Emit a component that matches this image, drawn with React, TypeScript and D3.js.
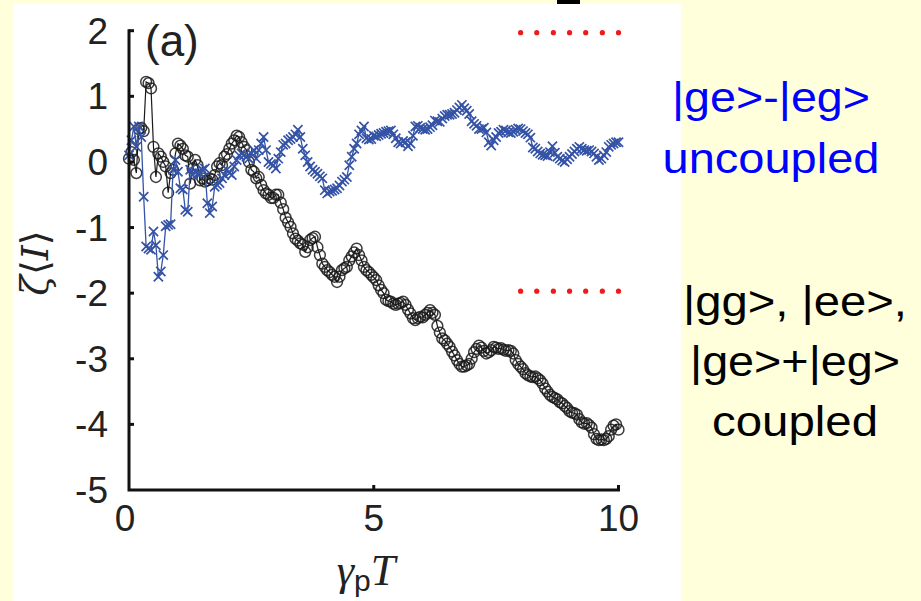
import React from "react";
import * as d3 from "d3";

// Sampling step of both trajectories (in units of γ_p T)
const timeStep = 0.05;

// Black trajectory (circles): coupled subspace
const coupledSeries = [
  0.05, 0.15, 0.03, -0.17, 0.5, 0.52, 0.47, 1.22, 1.2, 1.12,
  0.23, -0.23, 0.13, 0.08, 0.0, -0.07, -0.47, -0.17, -0.12, 0.13,
  0.28, 0.25, 0.2, 0.1, 0.08, -0.33, -0.1, 0.03, -0.05, -0.28,
  -0.25, -0.3, -0.28, -0.25, -0.27, -0.2, -0.07, -0.02, -0.05, 0.08,
  0.12, 0.2, 0.28, 0.33, 0.4, 0.38, 0.3, 0.23, 0.18, 0.0,
  -0.12, -0.15, -0.25, -0.23, -0.35, -0.43, -0.48, -0.5, -0.55, -0.55,
  -0.5, -0.5, -0.62, -0.72, -0.85, -0.92, -0.99, -1.09, -1.17, -1.2,
  -1.24, -1.26, -1.37, -1.3, -1.19, -1.16, -1.14, -1.3, -1.42, -1.55,
  -1.6, -1.65, -1.68, -1.72, -1.75, -1.83, -1.75, -1.65, -1.62, -1.6,
  -1.5, -1.44, -1.38, -1.32, -1.42, -1.5, -1.6, -1.65, -1.68, -1.72,
  -1.76, -1.8, -1.88, -1.95, -2.0, -2.1, -2.12, -2.13, -2.16, -2.18,
  -2.16, -2.15, -2.13, -2.18, -2.25, -2.31, -2.38, -2.41, -2.38, -2.36,
  -2.37, -2.33, -2.3, -2.26, -2.3, -2.33, -2.5, -2.6, -2.69, -2.72,
  -2.77, -2.82, -2.89, -2.95, -3.02, -3.08, -3.12, -3.12, -3.1, -3.08,
  -3.0, -2.9, -2.85, -2.8, -2.83, -2.88, -2.92, -2.9, -2.87, -2.82,
  -2.83, -2.85, -2.84, -2.86, -2.88, -2.87, -2.88, -2.92, -3.02, -3.08,
  -3.12, -3.16, -3.22, -3.25, -3.27, -3.28, -3.27, -3.3, -3.33, -3.38,
  -3.45, -3.5, -3.55, -3.58, -3.6, -3.62, -3.66, -3.68, -3.72, -3.75,
  -3.8, -3.82, -3.83, -3.85, -3.92, -3.97, -3.99, -3.98, -4.01, -4.05,
  -4.15, -4.22, -4.24, -4.23, -4.24, -4.22, -4.18, -4.08, -4.02, -4.0,
  -4.08,
];

// Blue trajectory (crosses): uncoupled state
const uncoupledSeries = [
  0.1, 0.33, 0.54, 0.23, 0.54, 0.38, -0.53, -1.29, -1.32, -1.34,
  -1.06, -1.27, -1.75, -1.67, -1.42, -0.98, -0.96, -0.95, -0.12, 0.03,
  -0.15, -0.4, -0.42, -0.73, -0.76, -0.12, -0.2, -0.15, -0.18, -0.17,
  -0.12, -0.1, -0.63, -0.78, -0.68, -0.38, -0.35, -0.32, -0.25, -0.2,
  -0.12, -0.17, -0.2, -0.07, 0.03, 0.1, 0.13, 0.1, 0.08, 0.05,
  0.13, 0.18, 0.05, 0.18, 0.28, 0.38, 0.18, 0.0, -0.03, -0.05,
  -0.1, 0.05, 0.15, 0.26, 0.28, 0.33, 0.35, 0.38, 0.42, 0.49,
  0.38, 0.2, 0.1, 0.0, -0.07, -0.12, -0.15, -0.18, -0.22, -0.25,
  -0.43, -0.48, -0.45, -0.44, -0.42, -0.4, -0.36, -0.3, -0.27, -0.23,
  -0.05, 0.08, 0.2, 0.28, 0.42, 0.48, 0.54, 0.36, 0.34, 0.35,
  0.4, 0.39, 0.41, 0.43, 0.44, 0.46, 0.47, 0.48, 0.42, 0.36,
  0.3, 0.28, 0.32, 0.3, 0.24, 0.28, 0.4, 0.54, 0.55, 0.52,
  0.5, 0.49, 0.5, 0.53, 0.56, 0.63, 0.62, 0.61, 0.66, 0.7,
  0.72, 0.72, 0.73, 0.75, 0.79, 0.83, 0.87, 0.82, 0.78, 0.73,
  0.62, 0.58, 0.55, 0.5, 0.5, 0.52, 0.45, 0.3, 0.25, 0.33,
  0.38, 0.44, 0.46, 0.49, 0.48, 0.45, 0.44, 0.46, 0.49, 0.51,
  0.5, 0.47, 0.44, 0.42, 0.37, 0.22, 0.2, 0.16, 0.13, 0.11,
  0.1, 0.09, 0.15, 0.24, 0.14, 0.08, 0.05, 0.02, 0.0, 0.04,
  0.08, 0.12, 0.16, 0.2, 0.23, 0.2, 0.18, 0.17, 0.18, 0.16,
  0.13, 0.08, 0.03, 0.05, 0.1, 0.15, 0.23, 0.26, 0.28, 0.3,
  0.3,
];

// Red dotted reference marks
const markerLevels = [1.97, -1.97];
const markerTimes = [8, 8.33, 8.67, 9, 9.33, 9.67, 10];

const yTicks = [2, 1, 0, -1, -2, -3, -4, -5];
const yTickLabels = ["2", "1", "0", "-1", "-2", "-3", "-4", "-5"];
const xTicks = [0, 5, 10];
const xTickLabels = ["0", "5", "10"];

const uncoupledLines = ["|ge>-|eg>", "uncoupled"];
const coupledLines = ["|gg>, |ee>,", "|ge>+|eg>", "coupled"];

const W = 921;
const H = 601;
const BLUE = "#3553a6";
const INK = "#1a1a1a";

export default function App() {
  const x = d3.scaleLinear().domain([0, 10]).range([129, 618.5]);
  const y = d3.scaleLinear().domain([-5, 2]).range([490, 30.7]);

  const toPts = (arr: number[]) => arr.map((v, i) => [i * timeStep, v] as [number, number]);
  const coupled = toPts(coupledSeries);
  const uncoupled = toPts(uncoupledSeries);

  const line = d3
    .line<[number, number]>()
    .x((d) => x(d[0]))
    .y((d) => y(d[1]));

  const tickFont = "'Liberation Sans', Arial, sans-serif";
  const s = 4.6; // half-size of the cross marker

  return (
    <div style={{ position: "fixed", left: 0, top: 0, width: W, height: H }}>
      <svg width={W} height={H} style={{ display: "block" }}>
        <rect x={0} y={0} width={W} height={H} fill="#ffffdc" />
        <rect x={13} y={4} width={668} height={H - 4} fill="#ffffff" />
        <rect x={557} y={0} width={23} height={4} fill="#000" />

        {/* trajectories */}
        <path d={line(coupled) ?? ""} fill="none" stroke={INK} strokeWidth={1.2} />
        {coupled.map((d, i) => (
          <circle
            key={`c${i}`}
            cx={x(d[0])}
            cy={y(d[1])}
            r={5.4}
            fill="none"
            stroke={INK}
            strokeOpacity={0.85}
            strokeWidth={1.5}
          />
        ))}
        <path d={line(uncoupled) ?? ""} fill="none" stroke={BLUE} strokeWidth={1.3} />
        {uncoupled.map((d, i) => {
          const cx = x(d[0]);
          const cy = y(d[1]);
          return (
            <path
              key={`u${i}`}
              d={`M${cx - s},${cy - s}L${cx + s},${cy + s}M${cx - s},${cy + s}L${cx + s},${cy - s}`}
              stroke={BLUE}
              strokeWidth={1.7}
              fill="none"
            />
          );
        })}

        {/* reference dots */}
        {markerLevels.map((lv) =>
          markerTimes.map((t) => (
            <circle key={`m${lv}-${t}`} cx={x(t)} cy={y(lv)} r={2.6} fill="#f01a1a" />
          ))
        )}

        {/* axes */}
        <path
          d={`M${x(0)},${y(2)}V${y(-5)}H${x(10)}`}
          fill="none"
          stroke="#111"
          strokeWidth={3}
          strokeLinecap="square"
        />
        {yTicks.slice(0, -1).map((t) => (
          <line key={`yt${t}`} x1={x(0)} x2={x(0) + 5} y1={y(t)} y2={y(t)} stroke="#111" strokeWidth={3} />
        ))}
        {xTicks.slice(1).map((t) => (
          <line key={`xt${t}`} x1={x(t)} x2={x(t)} y1={y(-5)} y2={y(-5) - 5} stroke="#111" strokeWidth={3} />
        ))}
        {yTicks.map((t, i) => (
          <text
            key={`yl${t}`}
            x={108}
            y={y(t) + 13}
            textAnchor="end"
            fontFamily={tickFont}
            fontSize={37}
            fill="#222"
          >
            {yTickLabels[i]}
          </text>
        ))}
        {xTicks.map((t, i) => (
          <text
            key={`xl${t}`}
            x={x(t) - (t === 0 ? 4 : 0)}
            y={531}
            textAnchor="middle"
            fontFamily={tickFont}
            fontSize={37}
            fill="#222"
          >
            {xTickLabels[i]}
          </text>
        ))}

        <text x={145} y={56} fontFamily={tickFont} fontSize={44} fill="#222">
          (a)
        </text>

        {/* axis titles */}
        <text x={366} y={585} textAnchor="middle" fill="#222">
          <tspan fontFamily="'Liberation Serif', serif" fontStyle="italic" fontSize={44}>
            γ
          </tspan>
          <tspan fontFamily={tickFont} fontSize={30} dy={6}>
            p
          </tspan>
          <tspan fontFamily="'Liberation Serif', serif" fontStyle="italic" fontSize={44} dy={-6}>
            T
          </tspan>
        </text>
        <text
          transform="translate(48,263) rotate(-90)"
          textAnchor="middle"
          fill="#222"
          fontFamily="'DejaVu Serif', serif"
          fontSize={38}
        >
          <tspan fontStyle="italic">ζ</tspan>
          <tspan>⟨</tspan>
          <tspan fontStyle="italic">I</tspan>
          <tspan>⟩</tspan>
        </text>

        {/* state annotations */}
        {uncoupledLines.map((t, i) => (
          <text
            key={`ul${i}`}
            x={771}
            y={112 + i * 61}
            textAnchor="middle"
            fontFamily={tickFont}
            fontSize={42}
            fill="#0000ff"
            textLength={i === 0 ? 198 : 217}
            lengthAdjust="spacingAndGlyphs"
          >
            {t}
          </text>
        ))}
        {coupledLines.map((t, i) => (
          <text
            key={`cl${i}`}
            x={795}
            y={316 + i * 60}
            textAnchor="middle"
            fontFamily={tickFont}
            fontSize={42}
            fill="#000"
            textLength={[224, 210, 166][i]}
            lengthAdjust="spacingAndGlyphs"
          >
            {t}
          </text>
        ))}
      </svg>
    </div>
  );
}
